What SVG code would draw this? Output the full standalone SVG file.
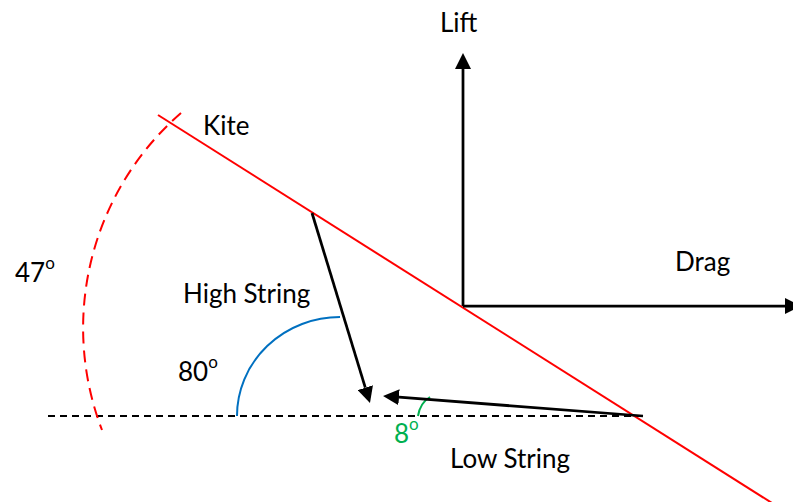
<svg xmlns="http://www.w3.org/2000/svg" width="793" height="502" viewBox="0 0 793 502">
<style>
text{font-family:Lato,"Liberation Sans",sans-serif;font-size:26px;fill:#000}
.sup{font-size:17px}
.arrow{stroke:#000;stroke-width:2.75;fill:none}
.red{stroke:#FF0000;stroke-width:2;fill:none}
</style>
<defs>
<marker id="ah" markerUnits="userSpaceOnUse" markerWidth="16" markerHeight="16" viewBox="0 0 16 16" refX="0" refY="8" orient="auto">
<path d="M0,0 L16,8 L0,16 z" fill="#000"/>
</marker>
</defs>
<rect width="793" height="502" fill="#fff"/>
<g id="connectors">
<line x1="48" y1="416" x2="640" y2="416" stroke="#000" stroke-width="2" stroke-dasharray="7 5"/>
<line class="red" x1="158" y1="115" x2="772" y2="503"/>
<path class="red" d="M181,113 A285,285 0 0 0 102,430" stroke-dasharray="12 7"/>
<path d="M237,416 A103,99 0 0 1 340,317" stroke="#0070C0" stroke-width="2" fill="none"/>
<path d="M418,416 Q420,403 430,397" stroke="#00B050" stroke-width="2" fill="none"/>
<line class="arrow" x1="463" y1="306" x2="463" y2="69" marker-end="url(#ah)"/>
<line class="arrow" x1="463" y1="306" x2="785" y2="306" marker-end="url(#ah)"/>
<line class="arrow" x1="312" y1="213" x2="365.3" y2="387.7" marker-end="url(#ah)"/>
<line class="arrow" x1="643" y1="416" x2="399" y2="397.2" marker-end="url(#ah)"/>
</g>
<g id="lift"><text x="440" y="32">Lift</text></g>
<g id="drag"><text x="675" y="271">Drag</text></g>
<g id="kite"><text x="203" y="135">Kite</text></g>
<g id="high-string"><text x="183" y="303">High String</text></g>
<g id="low-string"><text x="450" y="468">Low String</text></g>
<g id="angle-47"><text x="15" y="282">47<tspan class="sup" dy="-13">o</tspan></text></g>
<g id="angle-80"><text x="178" y="381">80<tspan class="sup" dy="-13">o</tspan></text></g>
<g id="angle-8"><text x="394" y="443" style="fill:#00B050">8<tspan class="sup" dy="-13">o</tspan></text></g>
</svg>
